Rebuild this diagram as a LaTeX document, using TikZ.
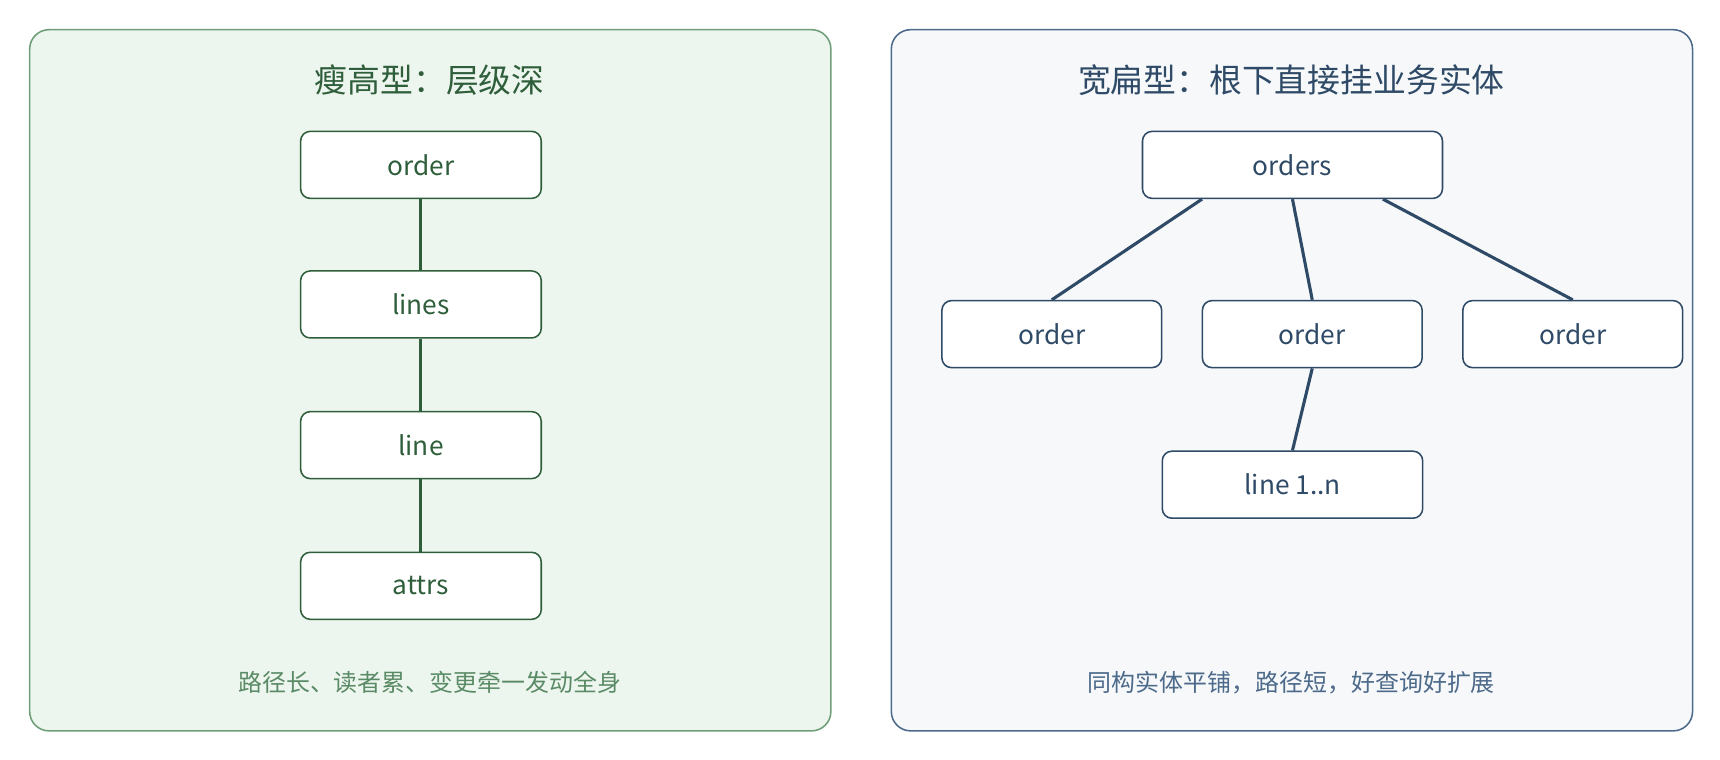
\documentclass[tikz,border=0pt]{standalone}
\usepackage{fontspec}
\setmainfont{Noto Sans CJK SC}
\usetikzlibrary{calc}
\definecolor{gfill}{HTML}{EDF6EE}
\definecolor{gborder}{HTML}{6E9E78}
\definecolor{gtext}{HTML}{2F5E3B}
\definecolor{bfill}{HTML}{F6F8FA}
\definecolor{bborder}{HTML}{4D6A8A}
\definecolor{btext}{HTML}{2E4A66}
\begin{document}
\begin{tikzpicture}[x=0.02cm,y=-0.02cm]
	\tikzstyle{panel}=[rounded corners=10pt, line width=0.8pt]
	\tikzstyle{gbox}=[draw=gtext, fill=white, rounded corners=5pt, line width=0.8pt, minimum width=4.38cm, minimum height=1.22cm, text=gtext, font=\fontsize{13.6}{16}\selectfont]
	\tikzstyle{bbox}=[draw=btext, fill=white, rounded corners=5pt, line width=0.8pt, minimum height=1.22cm, text=btext, font=\fontsize{13.6}{16}\selectfont]
	\useasboundingbox (0,0) rectangle (1565,691);
	
	% left panel
	\draw [panel, draw=gborder, fill=gfill] (27,27) rectangle (756,665);
	\node (ltitle) [text=gtext, font=\fontsize{17}{20}\selectfont] at (391,73) {瘦高型：层级深};
	\node (order) [gbox] at (383,150) {order};
	\node (lines) [gbox] at (383,277) {lines};
	\node (line) [gbox] at (383,405) {line};
	\node (attrs) [gbox] at (383,533) {attrs};
	\draw [gtext, line width=1.6pt] (order) -- (lines) (lines) -- (line) (line) -- (attrs);
	\node (lnote) [text=gborder!70!gtext, font=\fontsize{12.4}{15}\selectfont] at (391,621) {路径长、读者累、变更牵一发动全身};
	
	% right panel
	\draw [panel, draw=bborder, fill=bfill] (811,27) rectangle (1540,665);
	\node (rtitle) [text=btext, font=\fontsize{17}{20}\selectfont] at (1175,73) {宽扁型：根下直接挂业务实体};
	\node (orders) [bbox, minimum width=5.46cm] at (1176,150) {orders};
	\node (oa) [bbox, minimum width=4cm] at (957,304) {order};
	\node (ob) [bbox, minimum width=4cm] at (1194,304) {order};
	\node (oc) [bbox, minimum width=4cm] at (1431,304) {order};
	\node (ln) [bbox, minimum width=4.74cm] at (1176,441) {line 1..n};
	\draw [btext, line width=1.6pt] ($(orders.south west)!0.2!(orders.south east)$) -- (oa.north);
	\draw [btext, line width=1.6pt] (orders.south) -- (ob.north);
	\draw [btext, line width=1.6pt] ($(orders.south west)!0.8!(orders.south east)$) -- (oc.north);
	\draw [btext, line width=1.6pt] (ob.south) -- (ln.north);
	\node (rnote) [text=bborder, font=\fontsize{12.4}{15}\selectfont] at (1175,621) {同构实体平铺，路径短，好查询好扩展};
\end{tikzpicture}
\end{document}
